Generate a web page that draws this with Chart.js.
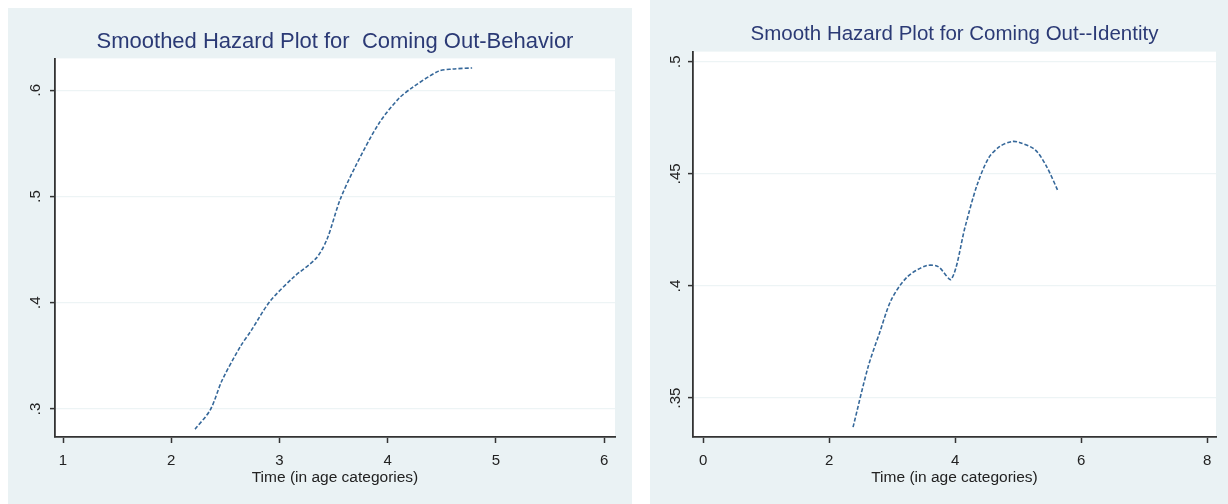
<!DOCTYPE html>
<html>
<head>
<meta charset="utf-8">
<script src="https://cdn.jsdelivr.net/npm/chart.js@4"></script>
<style>
  html, body { margin: 0; padding: 0; background: #fff; }
  body { width: 1228px; height: 504px; position: relative; overflow: hidden; }
  canvas { position: absolute; }
  #behaviorChart { left: 8px; top: 8px; }
  #identityChart { left: 650px; top: 0px; }
</style>
</head>
<body>
<canvas id="behaviorChart" width="624" height="496"></canvas>
<canvas id="identityChart" width="578" height="504"></canvas>
<script>
// Coming Out - Behavior (smoothed hazard)
var behaviorTime   = [2.22, 2.36, 2.47, 2.64, 2.74, 2.91, 3.13, 3.34, 3.44, 3.56, 3.70, 3.92, 4.10, 4.22, 4.47, 4.60, 4.78];
var behaviorHazard = [0.281, 0.299, 0.327, 0.359, 0.374, 0.401, 0.424, 0.442, 0.460, 0.497, 0.528, 0.569, 0.592, 0.602, 0.618, 0.620, 0.621];
var behaviorXTicks = [1, 2, 3, 4, 5, 6];
var behaviorYTicks = [0.3, 0.4, 0.5, 0.6];

// Coming Out - Identity (smoothed hazard)
var identityTime   = [2.38, 2.62, 2.80, 2.99, 3.24, 3.54, 3.73, 3.94, 4.16, 4.34, 4.53, 4.71, 4.90, 5.02, 5.27, 5.45, 5.63];
var identityHazard = [0.337, 0.364, 0.379, 0.394, 0.404, 0.409, 0.4086, 0.403, 0.4265, 0.4443, 0.457, 0.4622, 0.4644, 0.464, 0.4607, 0.4533, 0.4425];
var identityXTicks = [0, 2, 4, 6, 8];
var identityYTicks = [0.35, 0.4, 0.45, 0.5];

var xAxisTitle = 'Time (in age categories)';

var PANEL_BG = '#eaf2f4';
var LINE_COLOR = '#36689a';
var TITLE_COLOR = '#2b3a75';
var FONT = '"Liberation Sans", Arial, sans-serif';

// fills the grey-blue graph region and the white plot region
var panelBackground = {
    id: 'panelBackground',
    beforeDraw: function (chart) {
        var ctx = chart.ctx, a = chart.chartArea;
        ctx.save();
        ctx.fillStyle = PANEL_BG;
        ctx.fillRect(0, 0, chart.width, chart.height);
        ctx.fillStyle = '#ffffff';
        ctx.fillRect(a.left, a.top, a.right - a.left, a.bottom - a.top);
        ctx.restore();
    }
};

function stataLabel(v) {
    // Stata drops the leading zero: 0.45 -> .45
    return String(+v.toFixed(2)).replace(/^0\./, '.');
}

function makeChart(canvasId, opts) {
    var points = opts.xs.map(function (x, i) { return { x: x, y: opts.ys[i] }; });
    var ctx = document.getElementById(canvasId).getContext('2d');
    return new Chart(ctx, {
        type: 'line',
        data: {
            datasets: [{
                data: points,
                borderColor: LINE_COLOR,
                borderWidth: 1.6,
                borderDash: [4, 2],
                pointRadius: 0,
                tension: 0.3,
                fill: false
            }]
        },
        options: {
            responsive: false,
            animation: false,
            layout: { padding: { left: 0, right: opts.padRight, top: 0, bottom: 0 } },
            plugins: {
                legend: { display: false },
                tooltip: { enabled: false },
                title: {
                    display: true,
                    text: opts.title,
                    fullSize: false,
                    color: TITLE_COLOR,
                    font: { family: FONT, size: opts.titleSize, weight: 'normal' },
                    padding: { top: opts.titleTop, bottom: opts.titleBottom }
                }
            },
            scales: {
                x: {
                    type: 'linear',
                    min: opts.xMin,
                    max: opts.xMax,
                    afterBuildTicks: function (s) { s.ticks = opts.xTicks.map(function (v) { return { value: v }; }); },
                    afterFit: function (s) { s.height = 67; },
                    grid: { drawOnChartArea: false, drawTicks: true, tickLength: 6, tickColor: '#333', tickWidth: 1.5 },
                    border: { display: true, color: '#333', width: 1.8 },
                    ticks: {
                        color: '#222',
                        padding: 9,
                        font: { family: FONT, size: 15 },
                        maxRotation: 0,
                        autoSkip: false,
                        callback: function (v) { return String(v); }
                    },
                    title: {
                        display: true,
                        text: xAxisTitle,
                        color: '#222',
                        font: { family: FONT, size: 15.5 },
                        padding: { top: 0, bottom: 17 }
                    }
                },
                y: {
                    type: 'linear',
                    min: opts.yMin,
                    max: opts.yMax,
                    afterBuildTicks: function (s) { s.ticks = opts.yTicks.map(function (v) { return { value: v }; }); },
                    afterFit: function (s) { s.width = opts.yWidth; },
                    grid: { color: '#edf4f5', lineWidth: 1.2, drawTicks: true, tickLength: 5, tickColor: '#333', tickWidth: 1.5 },
                    border: { display: true, color: '#333', width: 1.8 },
                    ticks: {
                        color: '#222',
                        padding: opts.yPad,
                        crossAlign: 'center',
                        minRotation: 90,
                        maxRotation: 90,
                        autoSkip: false,
                        font: { family: FONT, size: 15 },
                        callback: stataLabel
                    }
                }
            }
        },
        plugins: [panelBackground]
    });
}

makeChart('behaviorChart', {
    xs: behaviorTime, ys: behaviorHazard,
    xTicks: behaviorXTicks, yTicks: behaviorYTicks,
    xMin: 0.926, xMax: 6.10, yMin: 0.2736, yMax: 0.630,
    title: 'Smoothed Hazard Plot for  Coming Out-Behavior',
    titleSize: 22, titleTop: 21, titleBottom: 3,
    yWidth: 47, yPad: 8, padRight: 17
});

makeChart('identityChart', {
    xs: identityTime, ys: identityHazard,
    xTicks: identityXTicks, yTicks: identityYTicks,
    xMin: -0.16, xMax: 8.14, yMin: 0.3326, yMax: 0.5045,
    title: 'Smooth Hazard Plot for Coming Out--Identity',
    titleSize: 20.5, titleTop: 22, titleBottom: 5,
    yWidth: 43, yPad: 2, padRight: 12
});
</script>
</body>
</html>
